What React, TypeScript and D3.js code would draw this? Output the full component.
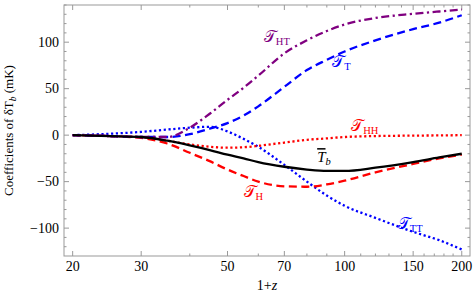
import React, { useEffect, useRef } from 'react';
import * as d3 from 'd3';

// 1+z sample points, shared by every curve
const zGrid = [20, 25, 30, 35, 40, 45, 50, 55, 60, 70, 80, 90, 100, 120, 150, 175, 200];

const tHT = [0, -1, -2, -2, 8, 23, 38, 51, 64, 88, 102, 112, 119, 126, 130.5, 133, 135];
const tT = [0, -1, -2, -2, 1, 7, 13, 21, 31, 52, 70, 81, 90, 102, 114, 121, 129];
const tTT = [0, 1.5, 3.5, 6, 8, 9, 4, -4, -12.5, -32, -50, -65, -76, -89, -104, -113, -123];
const tHH = [0, -1, -2, -6, -10, -12.5, -13.5, -13, -11.5, -8, -5, -3.5, -2, -1, -0.5, -0.3, 0];
const tH = [0, -1, -3, -9, -19, -28, -37, -44, -50, -55, -55.5, -53, -49, -40, -31, -25, -21];
const tB = [0, -1, -2, -6, -11, -16, -21, -25, -29, -34, -37, -38.5, -38.5, -35, -29, -24, -20];

const xMajor = [20, 30, 50, 70, 100, 150, 200];
const xMinor = [40, 60, 80, 90, 110, 120, 130, 140, 160, 170, 180, 190];
const yMajor = [-100, -50, 0, 50, 100];

const W = 474, H = 301;
const L = 64, R = 470, T = 5, B = 256;
const frame = '#999';
const serif = '"Liberation Serif", "DejaVu Serif", serif';

const series = [
  { vals: tTT, color: '#0000ff', dash: '2.2,2.6' },
  { vals: tHH, color: '#ff0000', dash: '2.2,2.6' },
  { vals: tH, color: '#ff0000', dash: '8,4.5' },
  { vals: tT, color: '#0000ff', dash: '8,4.5' },
  { vals: tHT, color: '#800080', dash: '8,3.5,2.2,3.5' },
  { vals: tB, color: '#000000', dash: null },
];

const App = () => {
  const ref = useRef<SVGSVGElement>(null);

  useEffect(() => {
    const svg = d3.select(ref.current);
    svg.selectAll('*').remove();

    const x = d3.scaleLog().domain([19, 210]).range([L, R]);
    const y = d3.scaleLinear().domain([-130, 140]).range([B, T]);

    const g = svg.append('g');

    // frame
    g.append('rect')
      .attr('x', L).attr('y', T)
      .attr('width', R - L).attr('height', B - T)
      .attr('fill', 'none').attr('stroke', frame).attr('stroke-width', 1);

    const ticks = g.append('g').attr('stroke', frame).attr('stroke-width', 1);
    xMajor.concat(xMinor).forEach(v => {
      const len = xMajor.includes(v) ? 5 : 2.5;
      const px = x(v);
      ticks.append('line').attr('x1', px).attr('x2', px).attr('y1', B).attr('y2', B - len);
      ticks.append('line').attr('x1', px).attr('x2', px).attr('y1', T).attr('y2', T + len);
    });
    d3.range(-120, 141, 10).forEach(v => {
      const len = v % 50 === 0 ? 5 : 2.5;
      const py = y(v);
      ticks.append('line').attr('x1', L).attr('x2', L + len).attr('y1', py).attr('y2', py);
      ticks.append('line').attr('x1', R).attr('x2', R - len).attr('y1', py).attr('y2', py);
    });

    // tick labels
    g.append('g')
      .selectAll('text')
      .data(xMajor)
      .enter()
      .append('text')
      .attr('x', d => x(d))
      .attr('y', B + 15)
      .attr('text-anchor', 'middle')
      .attr('font-family', serif)
      .attr('font-size', 14)
      .text(d => d);

    g.append('g')
      .selectAll('text')
      .data(yMajor)
      .enter()
      .append('text')
      .attr('x', L - 5)
      .attr('y', d => y(d) + 4.5)
      .attr('text-anchor', 'end')
      .attr('font-family', serif)
      .attr('font-size', 14)
      .text(d => (d < 0 ? '\u2212' + Math.abs(d) : String(d)));

    // curves
    const line = d3.line<number>()
      .x((d, i) => x(zGrid[i]))
      .y(d => y(d))
      .curve(d3.curveMonotoneX);

    series.forEach(s => {
      g.append('path')
        .attr('d', line(s.vals))
        .attr('fill', 'none')
        .attr('stroke', s.color)
        .attr('stroke-width', 2.3)
        .attr('stroke-dasharray', s.dash);
    });

    // curve labels
    const labels = [
      { z: 62, v: 100, color: '#800080', sub: 'HT' },
      { z: 93, v: 73, color: '#0000ff', sub: 'T' },
      { z: 104, v: 5, color: '#ff0000', sub: 'HH' },
      { z: 55, v: -66, color: '#ff0000', sub: 'H' },
      { z: 137, v: -101, color: '#0000ff', sub: 'TT' },
    ];
    labels.forEach(l => {
      const t = g.append('text')
        .attr('x', x(l.z))
        .attr('y', y(l.v))
        .attr('font-family', serif)
        .attr('fill', l.color);
      t.append('tspan').attr('font-size', 16).text('\u{1D4AF}');
      t.append('tspan').attr('font-size', 10.5).attr('dy', 3).text(l.sub);
    });

    const tb = g.append('text')
      .attr('x', x(85))
      .attr('y', y(-29))
      .attr('font-family', serif)
      .attr('fill', '#000');
    tb.append('tspan').attr('font-size', 15).attr('font-style', 'italic')
      .attr('text-decoration', 'overline').text('T');
    tb.append('tspan').attr('font-size', 10.5).attr('font-style', 'italic').attr('dy', 3).text('b');

    // axis titles
    const xt = g.append('text')
      .attr('x', (L + R) / 2)
      .attr('y', 290)
      .attr('text-anchor', 'middle')
      .attr('font-family', serif)
      .attr('font-size', 14);
    xt.append('tspan').text('1+');
    xt.append('tspan').attr('font-style', 'italic').text('z');

    const yt = g.append('text')
      .attr('transform', `translate(13,${(T + B) / 2}) rotate(-90)`)
      .attr('text-anchor', 'middle')
      .attr('font-family', serif)
      .attr('font-size', 13);
    yt.append('tspan').text('Coefficients of \u03B4T');
    yt.append('tspan').attr('font-style', 'italic').attr('font-size', 9.5).attr('dy', 3).text('b');
    yt.append('tspan').attr('dy', -3).text(' (mK)');
  }, []);

  return (
    <svg
      ref={ref}
      width={W}
      height={H}
      style={{ position: 'absolute', left: 0, top: 0, background: '#fff' }}
    />
  );
};

export default App;
